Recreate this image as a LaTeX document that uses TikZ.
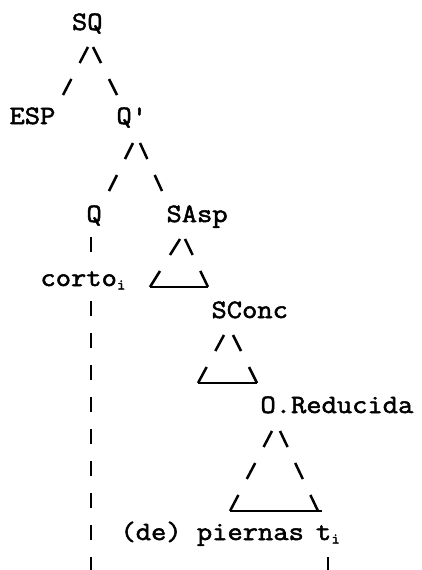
\documentclass[tikz,border=0pt]{standalone}
\usepackage{fontspec}
\setmonofont{Latin Modern Mono}[FakeStretch=1.12,FakeBold=2]
\newcommand{\subi}{\raisebox{-3.5pt}{\fontsize{15}{15}\selectfont i}}
\begin{document}
\begin{tikzpicture}[x=1pt,y=-1pt,
  lbl/.style={anchor=base west,inner sep=0pt,outer sep=0pt,
    font=\ttfamily\fontsize{26.5}{26.5}\selectfont},
  branch/.style={line width=2.5pt,dash pattern=on #1 off #1},
  bar/.style={line width=2.5pt,dash pattern=on 15pt off 17pt},
  solidline/.style={line width=2.5pt}]
\useasboundingbox[fill=white] (0,0) rectangle (422,570);

% labels
\node[lbl] (SQ)    at (72,30)    {SQ};
\node[lbl] (ESP)   at (9.5,124)  {ESP};
\node[lbl] (Qbar)  at (116.5,124){Q\textquotesingle};
\node[lbl] (Q)     at (86.5,222) {Q};
\node[lbl] (SAsp)  at (166.5,222){SAsp};
\node[lbl] (corto) at (40.5,286) {corto\subi};
\node[lbl] (SConc) at (211.5,318){SConc};
\node[lbl] (OR)    at (260.5,413){O.Reducida};
\node[lbl] (pier)  at (120.5,540){(de) piernas};
\node[lbl] (tr)    at (316,540)  {t\subi};

% branch ends
\coordinate (SQ-l)    at (88,47);   \coordinate (ESP-t)   at (63,95);
\coordinate (SQ-r)    at (93,47);   \coordinate (Qbar-t)  at (117,95);
\coordinate (Qbar-l)  at (133,143); \coordinate (Q-t)     at (109,191);
\coordinate (Qbar-r)  at (140,143); \coordinate (SAsp-t)  at (162,191);
\coordinate (Q-b)     at (91,237);  \coordinate (corto-t) at (91,252);
\coordinate (corto-b) at (91,301);  \coordinate (low)     at (91,575);
\coordinate (SAsp-l)  at (180,239); \coordinate (SAsp-bl) at (150,287);
\coordinate (SAsp-r)  at (185,239); \coordinate (SAsp-br) at (208,287);
\coordinate (SConc-l) at (224,335); \coordinate (SConc-bl) at (198,383);
\coordinate (SConc-r) at (233,335); \coordinate (SConc-br) at (257,383);
\coordinate (OR-l)    at (272,431); \coordinate (OR-bl)   at (230,511);
\coordinate (OR-r)    at (280,431); \coordinate (OR-br)   at (318,511);
\coordinate (OR-bx)   at (322,511);
\coordinate (tr-b)    at (328,557); \coordinate (tr-low)  at (328,575);

% tree
\draw[branch=18.04] (SQ-l) -- (ESP-t);
\draw[branch=17.89] (SQ-r) -- (Qbar-t);
\draw[branch=17.89] (Qbar-l) -- (Q-t);
\draw[branch=17.60] (Qbar-r) -- (SAsp-t);
\draw[solidline] (Q-b) -- (corto-t);
\draw[bar] (corto-b) -- (low);

% SAsp triangle
\draw[branch=18.87] (SAsp-l) -- (SAsp-bl);
\draw[branch=17.70] (SAsp-r) -- (SAsp-br);
\draw[solidline] (SAsp-bl) -- (SAsp-br);

% SConc triangle
\draw[branch=18.20] (SConc-l) -- (SConc-bl);
\draw[branch=17.89] (SConc-r) -- (SConc-br);
\draw[solidline] (SConc-bl) -- (SConc-br);

% small clause triangle
\draw[branch=18.07] (OR-l) -- (OR-bl);
\draw[branch=17.71] (OR-r) -- (OR-br);
\draw[solidline] (OR-bl) -- (OR-bx);

% trace line
\draw[solidline] (tr-b) -- (tr-low);
\end{tikzpicture}
\end{document}
